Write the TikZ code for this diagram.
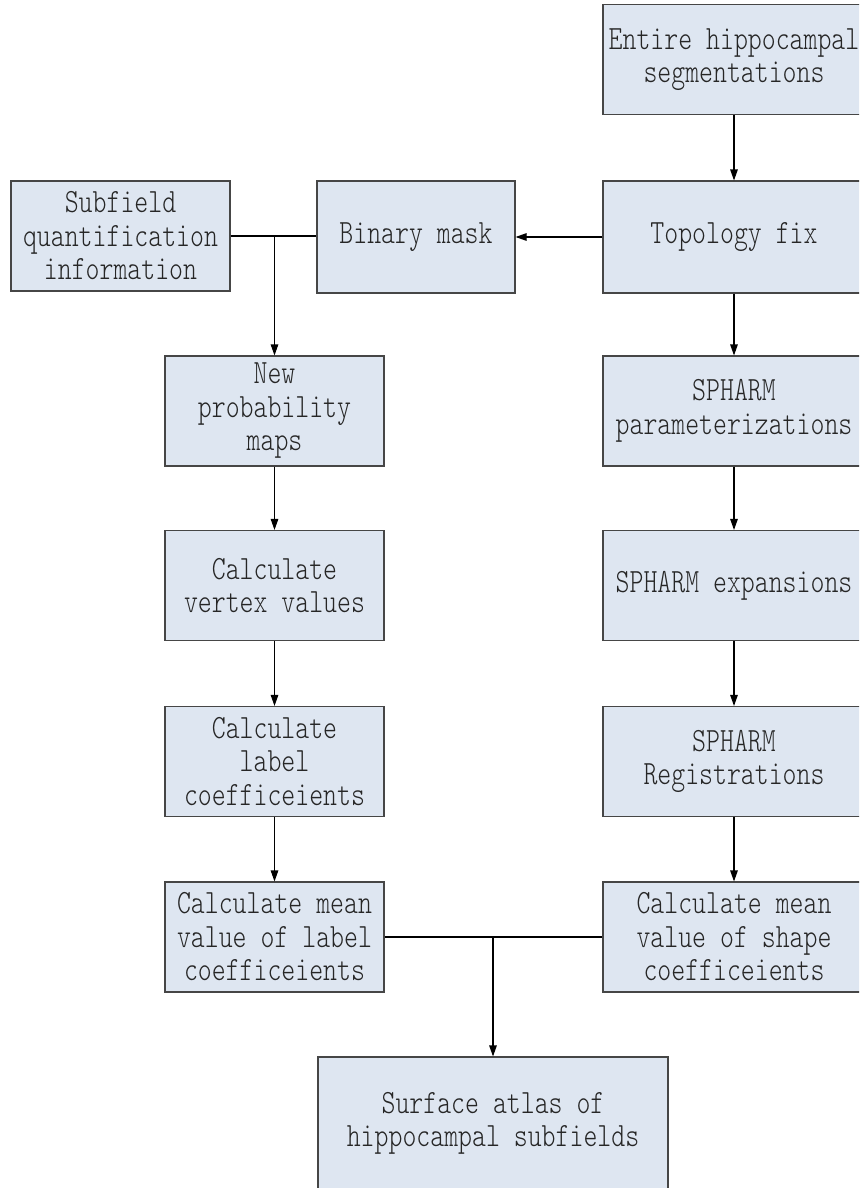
\documentclass[tikz,border=0pt]{standalone}
\usepackage{fontspec}
\setmonofont{lmmonolt10-regular.otf}[FakeStretch=0.78]
\usetikzlibrary{arrows.meta}
\definecolor{boxfill}{RGB}{222,230,241}
\definecolor{boxline}{RGB}{70,70,70}

\begin{document}
\begin{tikzpicture}[x=1pt,y=-1pt,
  box/.style={draw=boxline, fill=boxfill, line width=1.1pt, inner sep=0pt,
    align=center, font=\ttfamily\fontsize{34}{33.5}\selectfont,
    text=black!85, minimum height=110pt},
  rightbox/.style={box, minimum width=262pt},
  leftbox/.style={box, minimum width=219pt},
  link/.style={draw=black, line width=1.1pt},
  arrow/.style={link, -{Triangle[length=11pt,width=7.5pt]}}]

\useasboundingbox (0,0) rectangle (859,1188);
\clip (0,0) rectangle (859,1188);

% right column: shape pipeline
\node[rightbox] (seg)  at (734,59.5)  {Entire hippocampal\\segmentations};
\node[rightbox, minimum height=112pt] (topo) at (734,237) {Topology fix};
\node[rightbox] (param) at (734,411)  {SPHARM\\parameterizations};
\node[rightbox] (expan) at (734,585.5) {SPHARM expansions};
\node[rightbox] (reg)   at (734,761.5) {SPHARM\\Registrations};
\node[rightbox] (shape) at (734,937)  {Calculate mean\\value of shape\\coefficeients};

% left column: label pipeline
\node[box, minimum width=198pt, minimum height=112pt] (mask) at (416,237) {Binary mask};
\node[leftbox] (sub)    at (120.5,236) {Subfield\\quantification\\information};
\node[leftbox] (prob)   at (274.5,411) {New\\probability\\maps};
\node[leftbox] (vert)   at (274.5,585.5) {Calculate\\vertex values};
\node[leftbox] (lcoef)  at (274.5,761.5) {Calculate\\label\\coefficeients};
\node[leftbox] (lmean)  at (274.5,937) {Calculate mean\\value of label\\coefficeients};

% result
\node[box, minimum width=350pt, minimum height=133pt] (atlas) at (493,1123.5)
  {Surface atlas of\\hippocampal subfields};

% connectors
\draw[arrow] (seg) -- (topo);
\draw[arrow] (topo) -- (mask);
\draw[arrow] (topo) -- (param);
\draw[arrow] (param) -- (expan);
\draw[arrow] (expan) -- (reg);
\draw[arrow] (reg) -- (shape);

\coordinate (j1) at (274.5,236);
\draw[link] (sub.east |- j1) -- (mask.west |- j1);
\draw[arrow] (j1) -- (prob);
\draw[arrow] (prob) -- (vert);
\draw[arrow] (vert) -- (lcoef);
\draw[arrow] (lcoef) -- (lmean);

\coordinate (j2) at (493,937);
\draw[link] (lmean) -- (shape);
\draw[arrow] (j2) -- (atlas);
\end{tikzpicture}
\end{document}
